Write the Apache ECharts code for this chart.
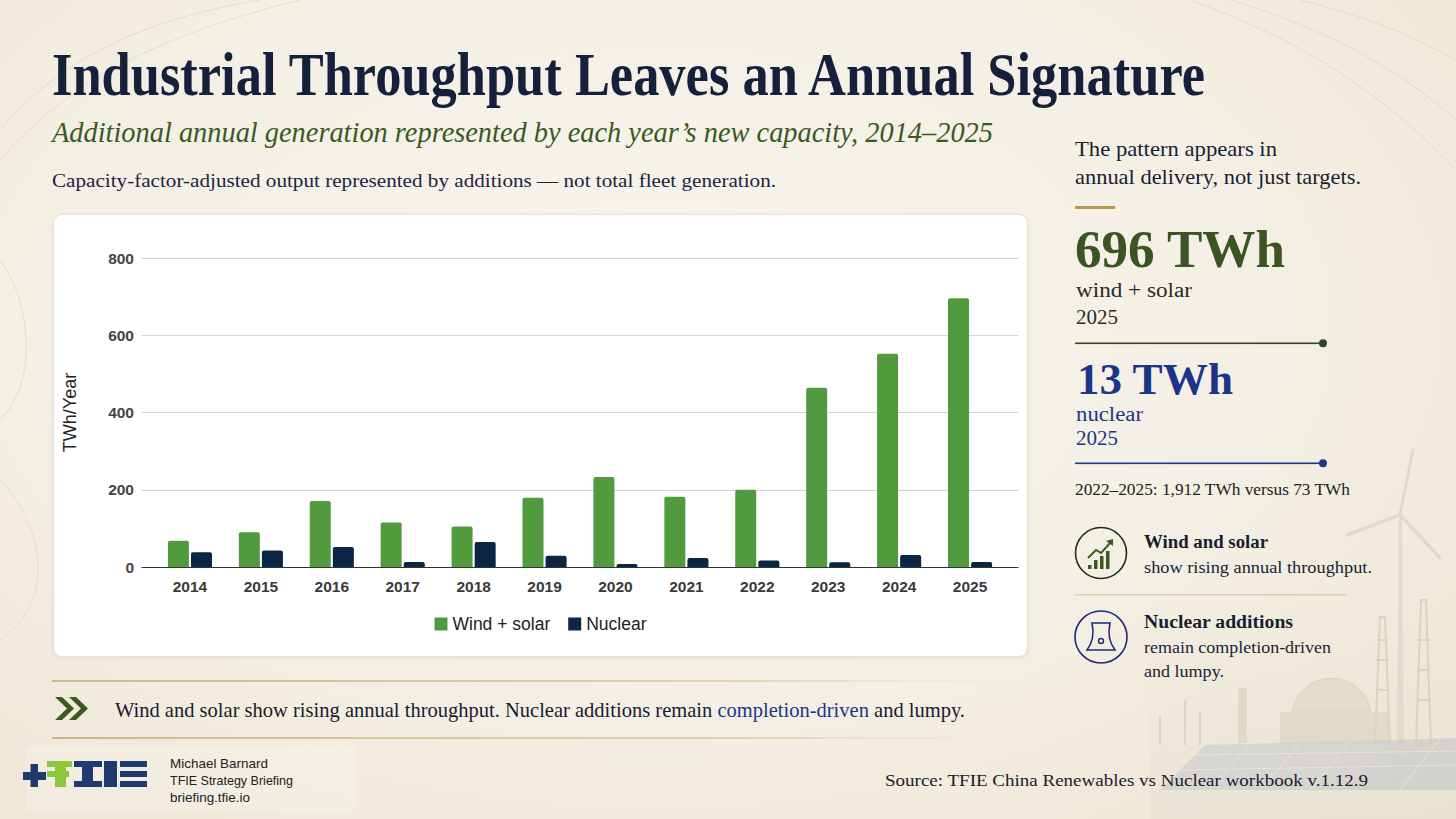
<!DOCTYPE html>
<html>
<head>
<meta charset="utf-8">
<script src="https://cdn.jsdelivr.net/npm/echarts@6/dist/echarts.min.js"></script>
<style>
html,body{margin:0;padding:0;}
body{width:1456px;height:819px;overflow:hidden;position:relative;
 background:radial-gradient(ellipse at 45% 40%, #f8f5ee 0%, #f4efe4 55%, #ede5d3 100%);
 font-family:"Liberation Serif",serif;}
.t{position:absolute;white-space:nowrap;line-height:1;transform-origin:0 0;display:inline-block;}
.s{font-family:"Liberation Sans",Arial,sans-serif;}
#card{position:absolute;left:53px;top:214px;width:975px;height:443px;background:#ffffff;border-radius:9px;
 border:1px solid #e7e1d3;box-shadow:0 1px 4px rgba(120,100,60,0.10);box-sizing:border-box;}
#chart{position:absolute;left:53px;top:214px;width:975px;height:443px;}
</style>
</head>
<body>
<svg id="deco" width="1456" height="819" style="position:absolute;left:0;top:0">
  <defs>
    <linearGradient id="gl" x1="0" x2="1" y1="0" y2="0">
      <stop offset="0" stop-color="#c7b47f" stop-opacity="0.9"/>
      <stop offset="0.7" stop-color="#d6c79c" stop-opacity="0.7"/>
      <stop offset="1" stop-color="#e8dfc6" stop-opacity="0"/>
    </linearGradient>
    <linearGradient id="haze" x1="0" x2="0" y1="0" y2="1">
      <stop offset="0" stop-color="#efe9dd" stop-opacity="0"/>
      <stop offset="1" stop-color="#e4ddcf" stop-opacity="0.8"/>
    </linearGradient>
  </defs>
  <g fill="none" stroke="#e3d9c2" stroke-width="1" opacity="0.8">
    <path d="M0 130 C60 60 140 20 260 0"/>
    <path d="M0 160 C70 80 160 35 300 0"/>
    <path d="M0 420 C40 380 30 300 0 260"/>
    <path d="M0 640 C60 600 40 520 0 480"/>
    <path d="M1190 0 C1300 40 1380 90 1456 170"/>
    <path d="M1230 0 C1330 30 1400 70 1456 120"/>
    <path d="M1300 0 C1380 20 1420 40 1456 60"/>
  </g>
  <g opacity="0.55">
    <rect x="1150" y="600" width="306" height="219" fill="url(#haze)"/>
    <rect x="1238" y="688" width="9" height="55" fill="#d5cbb8"/>
    <g stroke="#cfc5b2" stroke-width="2">
      <line x1="1185" y1="700" x2="1185" y2="745"/>
      <line x1="1200" y1="712" x2="1200" y2="745"/>
      <line x1="1160" y1="715" x2="1160" y2="745"/>
    </g>
    <path d="M1292 712 A40 40 0 0 1 1371 712 Z" fill="#ddd2bf" stroke="#cbbfa9"/>
    <rect x="1280" y="712" width="110" height="32" fill="#d8ceba"/>
    <g stroke="#cbc1ad" stroke-width="2" fill="none">
      <path d="M1375 745 L1380 617 L1385 617 L1390 745"/>
      <path d="M1416 745 L1421 600 L1426 600 L1431 745"/>
      <path d="M1376 660 L1389 660 M1376 690 L1389 690 M1377 640 L1388 640"/>
      <path d="M1417 640 L1430 640 M1417 670 L1430 670 M1417 700 L1430 700"/>
    </g>
    <path d="M1397 748 L1399 515 L1402 515 L1404 748 Z" fill="#d9d2c4"/>
    <g stroke="#d3ccbe" stroke-width="3" stroke-linecap="round">
      <line x1="1400" y1="515" x2="1413" y2="450"/>
      <line x1="1400" y1="515" x2="1347" y2="535"/>
      <line x1="1400" y1="515" x2="1440" y2="558"/>
    </g>
    <path d="M1160 790 L1205 745 L1390 740 L1345 790 Z" fill="#b9bec8" opacity="0.8"/>
    <path d="M1345 790 L1390 740 L1456 738 L1456 790 Z" fill="#b3b9c4" opacity="0.8"/>
    <g stroke="#e8e4dc" stroke-width="1" opacity="0.9">
      <line x1="1180" y1="770" x2="1456" y2="765"/>
      <line x1="1195" y1="755" x2="1456" y2="751"/>
      <line x1="1210" y1="790" x2="1250" y2="745"/>
      <line x1="1260" y1="790" x2="1300" y2="744"/>
      <line x1="1310" y1="790" x2="1350" y2="742"/>
      <line x1="1400" y1="790" x2="1440" y2="739"/>
    </g>
  </g>
  <rect x="52" y="680" width="980" height="2" fill="url(#gl)"/>
  <rect x="52" y="737" width="980" height="2" fill="url(#gl)"/>
  <g fill="#3c5a1f">
    <polygon points="55,697 62,697 74,708.5 62,720 55,720 67,708.5"/>
    <polygon points="69,697 76,697 88,708.5 76,720 69,720 81,708.5"/>
  </g>
  <rect x="1075" y="206" width="40" height="3" fill="#b9994f"/>
  <rect x="1075" y="342.5" width="248" height="1.6" fill="#2e4420"/>
  <circle cx="1323" cy="343.3" r="4" fill="#2e4420"/>
  <rect x="1075" y="462.5" width="248" height="1.6" fill="#1b3689"/>
  <circle cx="1323" cy="463.3" r="4" fill="#1b3689"/>
  <rect x="1075" y="594" width="272" height="1.5" fill="#ddd0b0"/>
  <circle cx="1101" cy="553" r="25.5" fill="none" stroke="#1e2d14" stroke-width="1.6"/>
  <g fill="#3c5a1f">
    <rect x="1088" y="565" width="3.5" height="4"/>
    <rect x="1094" y="560" width="3.5" height="9"/>
    <rect x="1100" y="556" width="3.5" height="13"/>
    <rect x="1106" y="551" width="3.5" height="18"/>
  </g>
  <polyline points="1088,558 1096,550 1101,553 1111,542" fill="none" stroke="#3c5a1f" stroke-width="2"/>
  <polygon points="1113,539 1113,546 1106,541" fill="#3c5a1f"/>
  <circle cx="1101" cy="637" r="26" fill="none" stroke="#1b2a7a" stroke-width="1.6"/>
  <path d="M1092 623 L1110 623 C1108 632 1109 642 1115 650 L1087 650 C1093 642 1094 632 1092 623 Z" fill="none" stroke="#1b2a7a" stroke-width="1.6"/>
  <circle cx="1101" cy="641" r="2.5" fill="none" stroke="#1b2a7a" stroke-width="1.4"/>
  <rect x="26" y="746" width="330" height="66" fill="#ffffff" opacity="0.18"/>
  <g fill="#1f3a6e">
    <rect x="23" y="772" width="23" height="8"/>
    <rect x="30.5" y="764" width="7.5" height="23"/>
    <rect x="74" y="761" width="28" height="6"/>
    <rect x="74" y="781" width="28" height="6"/>
    <rect x="82" y="761" width="11" height="26"/>
    <rect x="104" y="761" width="13" height="26"/>
    <rect x="120" y="761" width="27" height="6"/>
    <rect x="120" y="771" width="27" height="6"/>
    <rect x="120" y="781" width="27" height="6"/>
  </g>
  <g fill="#8dc63f">
    <rect x="47" y="761" width="25" height="6"/>
    <rect x="55" y="761" width="11" height="26"/>
    <rect x="47" y="771" width="22" height="6"/>
  </g>
</svg>

<div id="card"></div>
<div id="chart"></div>

<div class="t" style="left:52px;top:43px;font-size:62px;font-weight:bold;color:#15203b" data-w="1153">Industrial Throughput Leaves an Annual Signature</div>
<div class="t" style="left:52px;top:117px;font-size:30px;font-style:italic;color:#3a5a1f" data-w="941">Additional annual generation represented by each year’s new capacity, 2014–2025</div>
<div class="t" style="left:52px;top:171px;font-size:19px;color:#1c2440" data-w="724">Capacity-factor-adjusted output represented by additions — not total fleet generation.</div>

<div class="t" style="left:1075px;top:139.4px;font-size:21px;color:#171f33" data-w="202">The pattern appears in</div>
<div class="t" style="left:1075px;top:167.4px;font-size:21px;color:#171f33" data-w="286">annual delivery, not just targets.</div>
<div class="t" style="left:1075px;top:224.3px;font-size:52px;font-weight:bold;color:#3a5522" data-w="210">696 TWh</div>
<div class="t" style="left:1076px;top:279.9px;font-size:20px;color:#2a2a2a" data-w="116">wind + solar</div>
<div class="t" style="left:1076px;top:307.2px;font-size:20px;color:#2a2a2a" data-w="42">2025</div>
<div class="t" style="left:1077px;top:357.2px;font-size:45px;font-weight:bold;color:#1b3689" data-w="156">13 TWh</div>
<div class="t" style="left:1076px;top:403.9px;font-size:20px;color:#1b3689" data-w="67">nuclear</div>
<div class="t" style="left:1076px;top:428.2px;font-size:20px;color:#1b3689" data-w="42">2025</div>
<div class="t" style="left:1075px;top:482.3px;font-size:16px;color:#222" data-w="275">2022–2025: 1,912 TWh versus 73 TWh</div>
<div class="t" style="left:1144px;top:532.9px;font-size:18px;font-weight:bold;color:#171f33" data-w="124">Wind and solar</div>
<div class="t" style="left:1144px;top:558.7px;font-size:17px;color:#171f33" data-w="228">show rising annual throughput.</div>
<div class="t" style="left:1144px;top:612.9px;font-size:18px;font-weight:bold;color:#171f33" data-w="149">Nuclear additions</div>
<div class="t" style="left:1144px;top:638.7px;font-size:17px;color:#171f33" data-w="187">remain completion-driven</div>
<div class="t" style="left:1144px;top:662.7px;font-size:17px;color:#171f33" data-w="80">and lumpy.</div>

<div class="t" style="left:115px;top:700.4px;font-size:21px;color:#1a1a2e" data-w="850">Wind and solar show rising annual throughput. Nuclear additions remain <span style="color:#1b3689">completion-driven</span> and lumpy.</div>

<div class="t s" style="left:170px;top:756.5px;font-size:13px;color:#222" data-w="98">Michael Barnard</div>
<div class="t s" style="left:170px;top:773.5px;font-size:13px;color:#222" data-w="123">TFIE Strategy Briefing</div>
<div class="t s" style="left:170px;top:790.5px;font-size:13px;color:#222" data-w="80">briefing.tfie.io</div>
<div class="t" style="left:885px;top:772.4px;font-size:17px;color:#1a1a2e" data-w="483">Source: TFIE China Renewables vs Nuclear workbook v.1.12.9</div>

<script>
// ---- data ----
const years = ['2014','2015','2016','2017','2018','2019','2020','2021','2022','2023','2024','2025'];
const windSolar = [68, 90, 171, 115, 105, 179, 233, 182, 200, 464, 552, 696];
const nuclear = [38, 43, 52, 13, 65, 29, 8, 23, 17, 12, 31, 13];
const yMin = 0, yMax = 800, yStep = 200;
const seriesNames = ['Wind + solar', 'Nuclear'];

// ---- fit text widths ----
function fitText(){
  document.querySelectorAll('[data-w]').forEach(el=>{
    el.style.transform='none';
    const w = el.getBoundingClientRect().width;
    const t = +el.dataset.w;
    if (w>0) el.style.transform = 'scaleX(' + (t/w) + ')';
  });
}
fitText();
if (document.fonts && document.fonts.ready) document.fonts.ready.then(fitText);

// ---- chart ----
const chart = echarts.init(document.getElementById('chart'), null, {renderer:'svg'});
const axisFont = {fontFamily:'"Liberation Sans", Arial, sans-serif', fontWeight:'bold', fontSize:15.5, color:'#444'};
chart.setOption({
  animation:false,
  grid:[
    {left:89, width:876, top:44, height:309},
    {left:101.5, width:851, top:44, height:309}
  ],
  xAxis:[
    {gridIndex:0, type:'category', data:[''], axisLine:{show:true, lineStyle:{color:'#333', width:1.2}},
     axisTick:{show:false}, axisLabel:{show:false}, splitLine:{show:false}},
    {gridIndex:1, type:'category', data:years, axisLine:{show:false}, axisTick:{show:false},
     axisLabel:Object.assign({}, axisFont, {margin:11, color:'#3a3a3a'})}
  ],
  yAxis:[
    {gridIndex:0, type:'value', min:yMin, max:yMax, interval:yStep,
     name:'TWh/Year', nameLocation:'middle', nameGap:63,
     nameTextStyle:{fontFamily:'"Liberation Sans", Arial, sans-serif', fontSize:18, color:'#222'},
     axisLine:{show:false}, axisTick:{show:false},
     axisLabel:Object.assign({margin:8}, axisFont),
     splitLine:{lineStyle:{color:'#d4d4d4', width:1}}},
    {gridIndex:1, type:'value', min:yMin, max:yMax, interval:yStep, show:false, splitLine:{show:false}}
  ],
  legend:{
    top:396, left:'center', icon:'rect', itemWidth:13, itemHeight:13, itemGap:18,
    textStyle:{fontFamily:'"Liberation Sans", Arial, sans-serif', fontSize:17.5, color:'#222'},
    data:seriesNames
  },
  series:[
    {name:seriesNames[0], type:'bar', xAxisIndex:1, yAxisIndex:1, data:windSolar,
     barWidth:21, barGap:'10%', itemStyle:{color:'#519a3d', borderRadius:[2,2,0,0]}},
    {name:seriesNames[1], type:'bar', xAxisIndex:1, yAxisIndex:1, data:nuclear,
     barWidth:21, barGap:'10%', itemStyle:{color:'#0d2545', borderRadius:[2,2,0,0]}}
  ]
});
</script>
</body>
</html>
